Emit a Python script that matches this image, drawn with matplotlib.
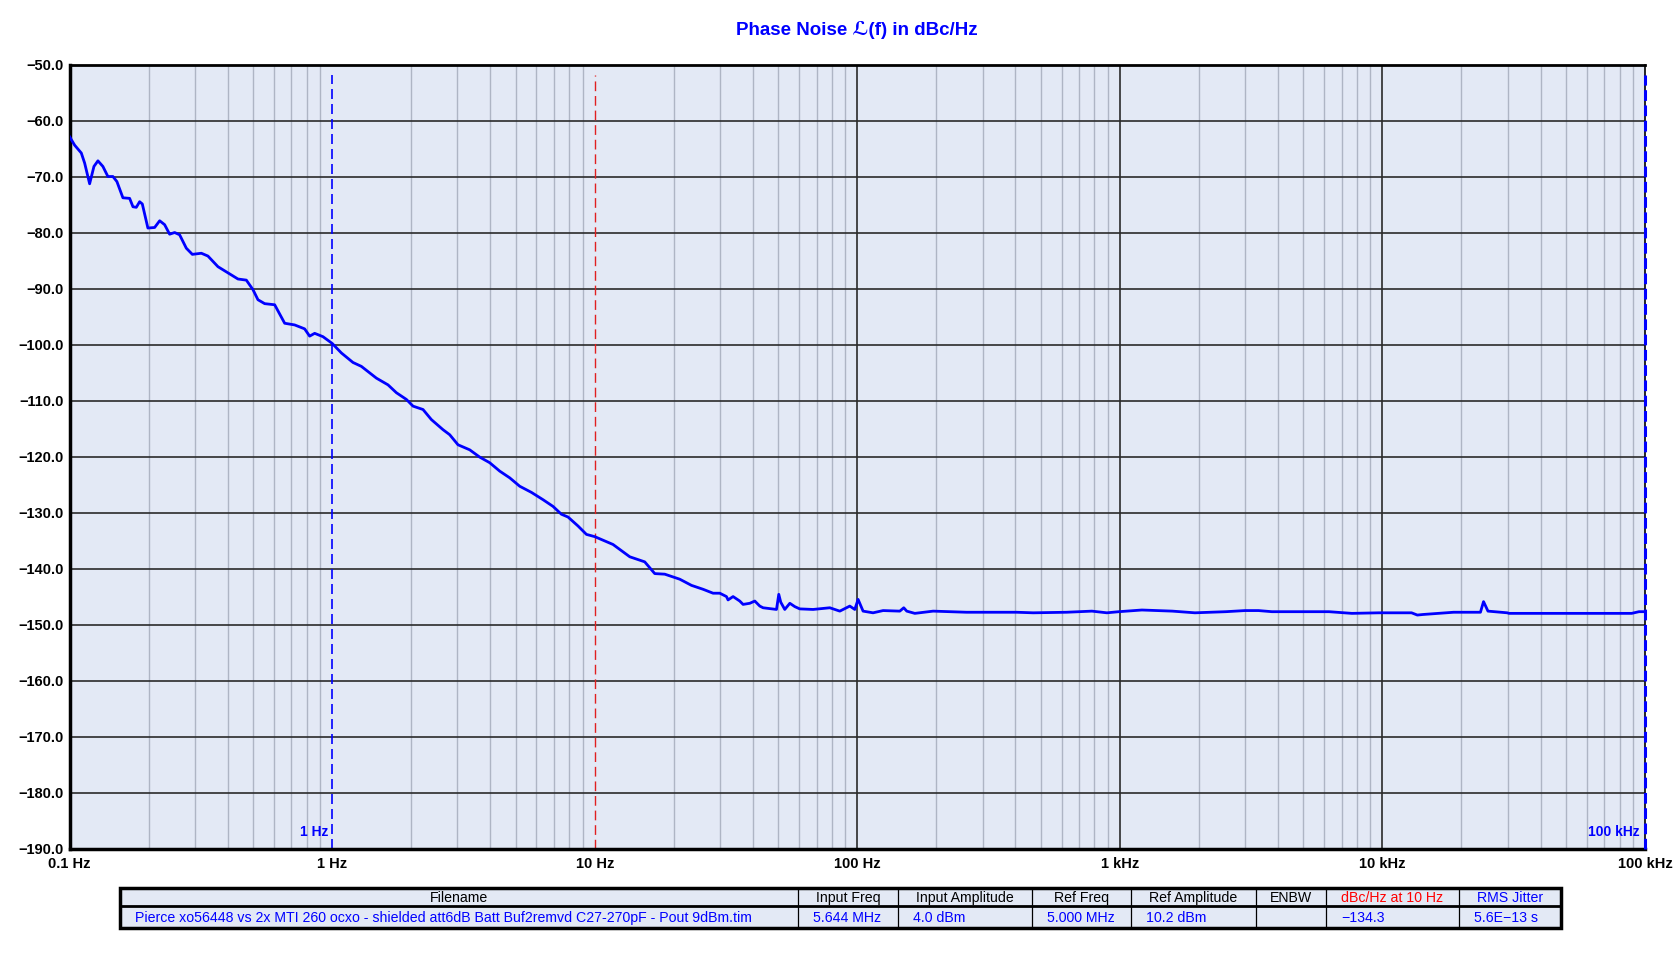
import numpy as np
import matplotlib
matplotlib.use("Agg")
import matplotlib.pyplot as plt
from matplotlib.ticker import FixedLocator, NullFormatter

plt.rcParams['font.family'] = ['Liberation Sans', 'DejaVu Sans']

# phase noise trace (offset freq in Hz, level in dBc/Hz)
freq = [0.1, 0.1045, 0.1108, 0.1141, 0.1192, 0.1238, 0.1282, 0.1339, 0.1399, 0.1462,
        0.1514, 0.1596, 0.1693, 0.1743, 0.1795, 0.1848, 0.1892, 0.1987, 0.2108, 0.2203,
        0.2301, 0.2404, 0.2512, 0.2624, 0.2783, 0.2934, 0.3175, 0.3364, 0.3673, 0.4009,
        0.4377, 0.4711, 0.4993, 0.5216, 0.5533, 0.6040, 0.6594, 0.7197, 0.7855, 0.8208,
        0.8577, 0.9226, 1.0, 1.084, 1.200, 1.292, 1.474, 1.632, 1.756, 1.917,
        2.032, 2.218, 2.387, 2.643, 2.803, 3.015, 3.341, 3.647, 3.981, 4.346,
        4.745, 5.179, 5.741, 6.353, 6.936, 7.466, 7.913, 8.637, 9.299, 10.0,
        11.74, 13.60, 15.50, 16.93, 18.48, 21.08, 23.36, 25.86, 28.23, 29.94,
        31.75, 32.19, 33.64, 35.67, 36.73, 38.95, 40.70, 42.53, 43.77, 49.23,
        50.23, 51.1, 52.94, 55.34, 57.82, 60.39,
        67.86, 78.58, 85.77, 93.63, 97.83, 100.7, 105.2, 114.8, 125.4, 145.2,
        150.3, 154.3, 165.6, 194.5, 260.6, 404.2, 467.4, 626.6, 782.3, 892.4,
        991.3, 1213, 1585, 1931, 2534, 2994, 3373, 3793, 6255, 7651,
        9698, 12910, 13580, 14270, 18670, 23620, 24270, 24780, 25230, 29880,
        30330, 88960, 94870, 100000]
level = [-62.9, -64.4, -65.8, -67.6, -71.3, -68.2, -67.2, -68.2, -70.0, -70.0,
         -70.9, -73.8, -73.9, -75.4, -75.5, -74.5, -74.9, -79.2, -79.1, -77.9,
         -78.6, -80.3, -80.0, -80.4, -82.8, -83.9, -83.7, -84.2, -86.1, -87.2,
         -88.3, -88.5, -90.2, -92.0, -92.7, -92.9, -96.2, -96.5, -97.2, -98.5,
         -98.0, -98.6, -99.8, -101.5, -103.2, -103.9, -106.0, -107.2, -108.6, -109.8,
         -111.0, -111.6, -113.4, -115.2, -116.1, -117.9, -118.8, -120.1, -121.1, -122.6,
         -123.8, -125.3, -126.4, -127.7, -128.9, -130.3, -130.8, -132.4, -133.9, -134.3,
         -135.7, -137.9, -138.8, -140.9, -141.0, -141.9, -143.0, -143.7, -144.4, -144.4,
         -145.0, -145.6, -145.0, -145.8, -146.4, -146.2, -145.8, -146.7, -147.0, -147.3,
         -144.6, -146.0, -147.3, -146.2, -146.8, -147.2,
         -147.3, -147.0, -147.6, -146.7, -147.3, -145.5, -147.6, -147.9, -147.5, -147.6,
         -147.0, -147.6, -148.0, -147.6, -147.8, -147.8, -147.9, -147.8, -147.6, -147.9,
         -147.7, -147.4, -147.6, -147.9, -147.7, -147.5, -147.5, -147.7, -147.7, -148.0,
         -147.9, -147.9, -148.3, -148.2, -147.8, -147.8, -145.9, -146.8, -147.6, -147.9,
         -148.0, -148.0, -147.7, -147.7]

decades = [0.1, 1, 10, 100, 1e3, 1e4, 1e5]
decade_labels = ["0.1 Hz", "1 Hz", "10 Hz", "100 Hz", "1 kHz", "10 kHz", "100 kHz"]
y_ticks = np.arange(-190, -49, 10)
marker_freqs = [1, 10, 1e5]

headers = ["Filename", "Input Freq", "Input Amplitude", "Ref Freq", "Ref Amplitude",
           "ENBW", "dBc/Hz at 10 Hz", "RMS Jitter"]
header_colors = ["black", "black", "black", "black", "black", "black", "red", "blue"]
values = ["Pierce xo56448 vs 2x MTI 260 ocxo - shielded att6dB Batt Buf2remvd C27-270pF - Pout 9dBm.tim",
          "5.644 MHz", "4.0 dBm", "5.000 MHz", "10.2 dBm", "", "\u2212134.3", "5.6E\u221213 s"]

W, H = 1680, 967
bg = "#e3e9f5"
ax_left, ax_right, ax_top, ax_bot = 69.6, 1645, 64.5, 848.6
fig = plt.figure(figsize=(W / 100, H / 100), dpi=100)
ax = fig.add_axes([ax_left / W, 1 - ax_bot / H, (ax_right - ax_left) / W, (ax_bot - ax_top) / H])
ax.set_facecolor(bg)

ax.set_xscale("log")
ax.set_xlim(0.1, 1e5)
ax.set_ylim(-190, -50)

minor = [m * d for d in decades[:-1] for m in range(2, 10)]
for f in minor:
    ax.axvline(f, color="#aeb5c4", lw=1.0, zorder=1)
for f in decades:
    if f not in marker_freqs:
        ax.axvline(f, color="#2b2b2b", lw=1.2, zorder=1)
for v in y_ticks:
    ax.axhline(v, color="#2b2b2b", lw=1.2, zorder=1)

ax.xaxis.set_major_locator(FixedLocator(decades))
ax.xaxis.set_minor_locator(FixedLocator(minor))
ax.xaxis.set_minor_formatter(NullFormatter())
ax.set_xticklabels(decade_labels)
ax.set_yticks(y_ticks)
ax.set_yticklabels([f"{v:.1f}".replace("-", "\u2212") for v in y_ticks])
ax.tick_params(which="both", length=0)
ax.tick_params(axis="x", pad=6)
ax.tick_params(axis="y", pad=4)
for lab in ax.get_xticklabels() + ax.get_yticklabels():
    lab.set_fontweight("bold")
    lab.set_fontsize(10.5)

for s in ["left", "bottom"]:
    ax.spines[s].set_linewidth(2.5)
ax.spines["top"].set_linewidth(2.0)
ax.spines["right"].set_linewidth(1.2)

# markers
ax.plot([1, 1], [-190, -51.8], color="#0000ff", lw=1.2, ls=(0, (6, 3)), zorder=2)
ax.plot([10, 10], [-190, -51.8], color="#e02020", lw=1.0, ls=(0, (7, 3.5)), zorder=2)
ax.plot([1e5, 1e5], [-190, -51.8], color="#0000ff", lw=2.2, ls=(0, (3.5, 1.5)), zorder=4, clip_on=False)
ax.annotate("1 Hz", (1, -187.0), xytext=(-3, 0), textcoords="offset points",
            ha="right", va="center", color="#0000ff", fontsize=10, fontweight="bold")
ax.annotate("100 kHz", (1e5, -187.0), xytext=(-4, 0), textcoords="offset points",
            ha="right", va="center", color="#0000ff", fontsize=10, fontweight="bold")

ax.plot(freq, level, color="#0000ff", lw=2.0, zorder=3)

fig.text((ax_left + ax_right) / 2 / W, 1 - 30 / H, "Phase Noise \u2112(f) in dBc/Hz",
         ha="center", va="center", color="#0000ff", fontsize=13.5, fontweight="bold",
         family=["Liberation Sans", "DejaVu Sans"])

# summary table under the plot
tab = fig.add_axes([0, 0, 1, 1])
tab.set_xlim(0, W)
tab.set_ylim(H, 0)
tab.axis("off")
edges = [120, 798, 898, 1032, 1131, 1256, 1326, 1459, 1561]
top, mid, bot = 888, 906, 928
tab.add_patch(plt.Rectangle((edges[0], top), edges[-1] - edges[0], bot - top,
                            facecolor=bg, edgecolor="black", lw=2.5, zorder=1))
tab.plot([edges[0], edges[-1]], [mid, mid], color="black", lw=2.0)
for e in edges[1:-1]:
    tab.plot([e, e], [top, bot], color="black", lw=0.9)
for i, (h, hc, v) in enumerate(zip(headers, header_colors, values)):
    tab.text((edges[i] + edges[i + 1]) / 2, 902, h, ha="center", va="baseline",
             color=hc, fontsize=10.2)
    tab.text(edges[i] + 15, 922, v, ha="left", va="baseline",
             color="#0000ff", fontsize=10.2)

fig.savefig("out.png", dpi=100)
